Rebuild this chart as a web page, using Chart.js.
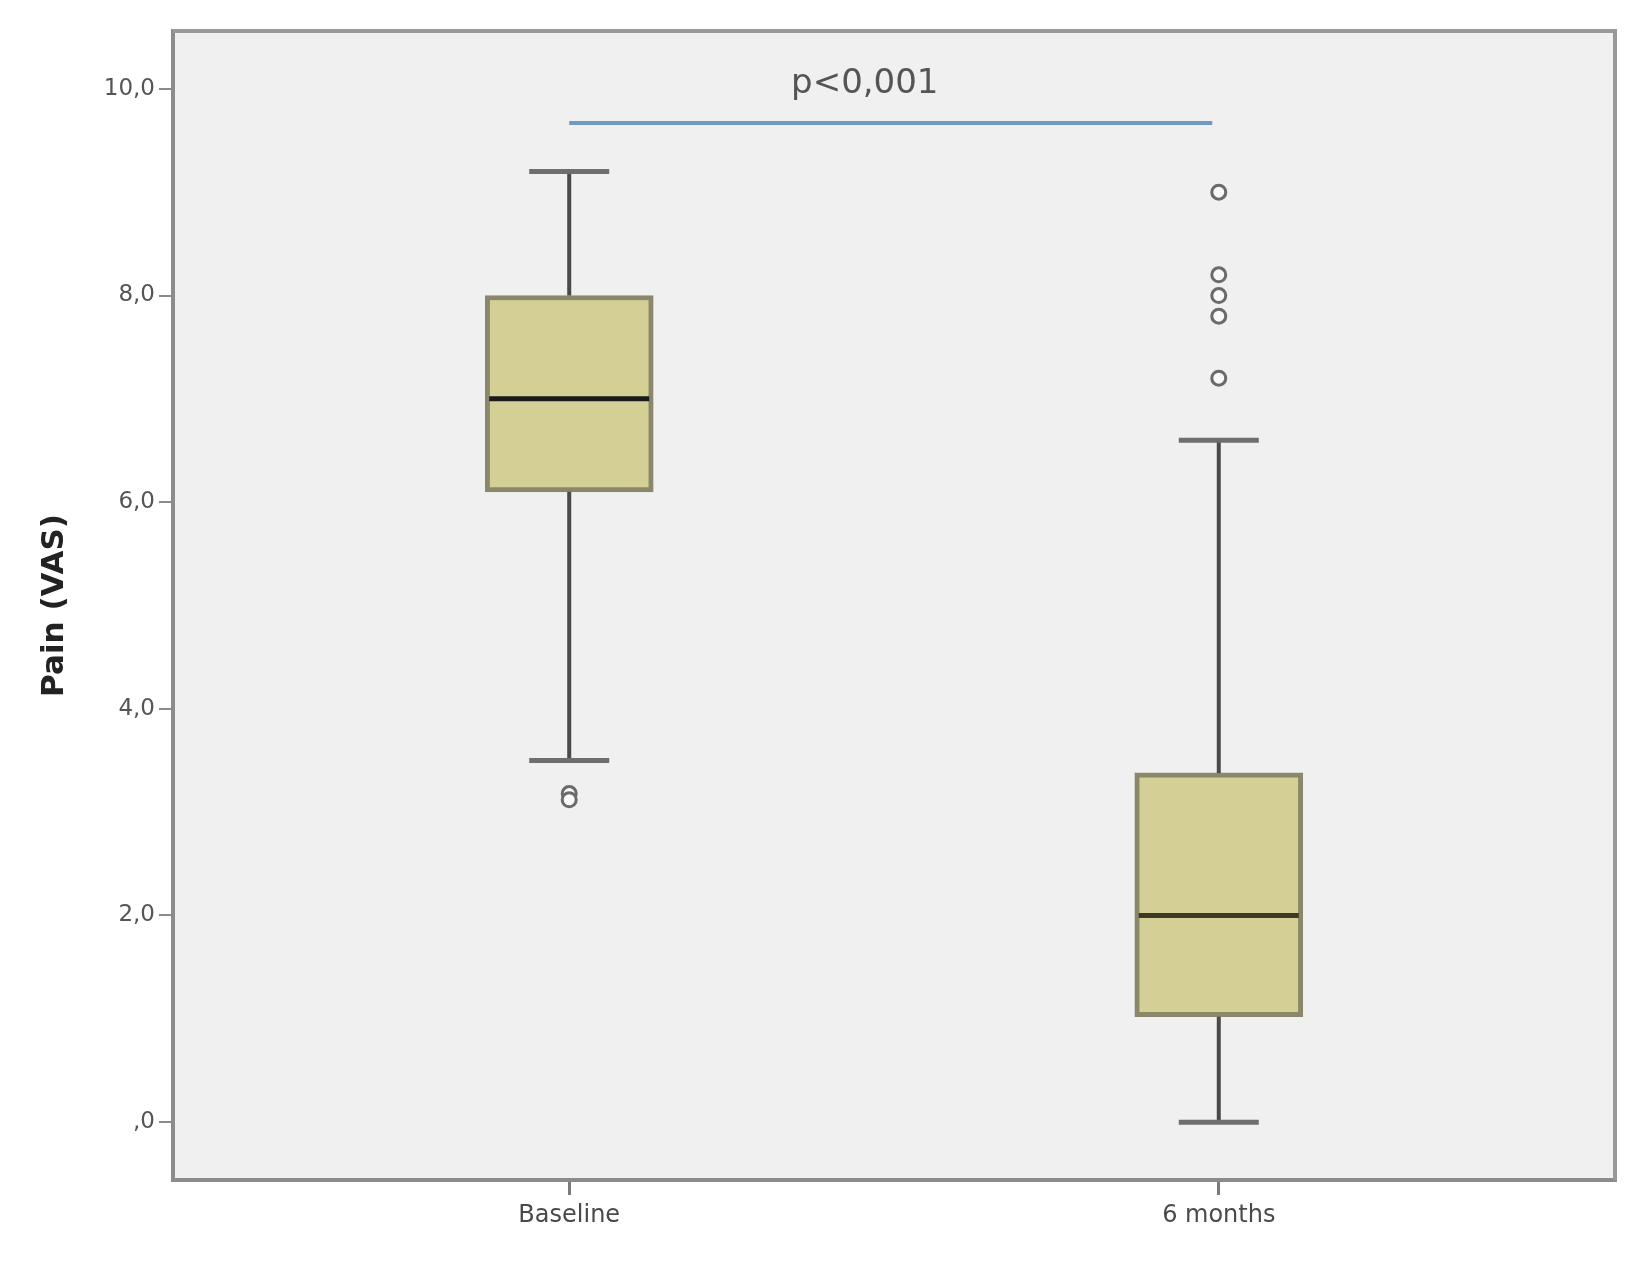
<!DOCTYPE html>
<html>
<head>
<meta charset="utf-8">
<script src="https://cdn.jsdelivr.net/npm/chart.js@4"></script>
<style>
  html, body { margin: 0; padding: 0; background: #ffffff; }
  #wrap { width: 1644px; height: 1269px; position: relative; }
</style>
</head>
<body>
<div id="wrap"><canvas id="painChart"></canvas></div>
<script>
// Box plot values (Pain VAS, baseline vs 6 months)
const categories = ['Baseline', '6 months'];
const catPos = [1, 2];
const whiskerLow = [3.5, 0.0];
const q1 = [6.1, 1.02];
const median = [7.0, 2.0];
const q3 = [8.0, 3.38];
const whiskerHigh = [9.2, 6.6];

// outliers (small circles)
const outliersBaseline = [3.18, 3.12];
const outliers6Months = [9.0, 8.2, 8.0, 7.8, 7.2];

const yTicks = [0, 2, 4, 6, 8, 10];
const yTickLabels = [',0', '2,0', '4,0', '6,0', '8,0', '10,0'];

// significance bar
const pText = 'p<0,001';
const pLineFrom = [1, 9.67];
const pLineTo = [1.99, 9.67];
const pTextAt = [1.455, 10.05];

const FONT = "'DejaVu Sans', 'Liberation Sans', sans-serif";

const boxData = catPos.map((x, i) => ({ x: x, y: [q1[i], q3[i]] }));
const outlierData = []
    .concat(outliersBaseline.map(v => ({ x: catPos[0], y: v })))
    .concat(outliers6Months.map(v => ({ x: catPos[1], y: v })));

// Plugin: plot background, whiskers, medians, significance line, frame
const boxExtras = {
    id: 'boxExtras',
    beforeDraw: (chart) => {
        const { ctx, chartArea } = chart;
        ctx.save();
        ctx.fillStyle = '#f0f0f0';
        ctx.fillRect(chartArea.left, chartArea.top, chartArea.right - chartArea.left, chartArea.bottom - chartArea.top);
        ctx.restore();
    },
    afterDatasetsDraw: (chart) => {
        const ctx = chart.ctx;
        const xs = chart.scales.x;
        const ys = chart.scales.y;
        const capHalf = 40;
        const boxHalf = 84;

        ctx.save();
        catPos.forEach((pos, i) => {
            const cx = xs.getPixelForValue(pos);

            // whiskers
            ctx.strokeStyle = '#4a4a4a';
            ctx.lineWidth = 4;
            ctx.beginPath();
            ctx.moveTo(cx, ys.getPixelForValue(q3[i]));
            ctx.lineTo(cx, ys.getPixelForValue(whiskerHigh[i]));
            ctx.moveTo(cx, ys.getPixelForValue(q1[i]));
            ctx.lineTo(cx, ys.getPixelForValue(whiskerLow[i]));
            ctx.stroke();

            // caps
            ctx.strokeStyle = '#6e6e6e';
            ctx.lineWidth = 5;
            ctx.beginPath();
            [whiskerHigh[i], whiskerLow[i]].forEach(v => {
                const y = ys.getPixelForValue(v);
                ctx.moveTo(cx - capHalf, y);
                ctx.lineTo(cx + capHalf, y);
            });
            ctx.stroke();

            // median
            ctx.strokeStyle = i === 0 ? '#1a1a1a' : '#3d3828';
            ctx.lineWidth = 5;
            ctx.beginPath();
            const my = ys.getPixelForValue(median[i]);
            ctx.moveTo(cx - boxHalf + 4, my);
            ctx.lineTo(cx + boxHalf - 4, my);
            ctx.stroke();
        });

        // p-value line
        ctx.strokeStyle = '#6f9bc3';
        ctx.lineWidth = 4;
        ctx.beginPath();
        ctx.moveTo(xs.getPixelForValue(pLineFrom[0]), ys.getPixelForValue(pLineFrom[1]));
        ctx.lineTo(xs.getPixelForValue(pLineTo[0]), ys.getPixelForValue(pLineTo[1]));
        ctx.stroke();

        ctx.fillStyle = '#555555';
        ctx.font = '34px ' + FONT;
        ctx.textAlign = 'center';
        ctx.textBaseline = 'middle';
        ctx.fillText(pText, xs.getPixelForValue(pTextAt[0]), ys.getPixelForValue(pTextAt[1]));
        ctx.restore();
    },
    afterDraw: (chart) => {
        const { ctx, chartArea } = chart;
        ctx.save();
        ctx.strokeStyle = '#999999';
        ctx.lineWidth = 4;
        ctx.beginPath();
        ctx.moveTo(chartArea.left, chartArea.top);
        ctx.lineTo(chartArea.right, chartArea.top);
        ctx.lineTo(chartArea.right, chartArea.bottom);
        ctx.stroke();
        ctx.restore();
    }
};

new Chart(document.getElementById('painChart'), {
    type: 'bar',
    data: {
        datasets: [
            {
                type: 'bar',
                data: boxData,
                backgroundColor: '#d4d095',
                borderColor: '#8a876a',
                borderWidth: 5,
                borderSkipped: false,
                barThickness: 168
            },
            {
                type: 'scatter',
                data: outlierData,
                pointStyle: 'circle',
                pointRadius: 7,
                pointBorderWidth: 3,
                pointBorderColor: '#6a6a6a',
                pointBackgroundColor: '#f8f8f8',
                showLine: false
            }
        ]
    },
    options: {
        responsive: true,
        maintainAspectRatio: false,
        animation: false,
        layout: { padding: { top: 31, right: 29, left: 0, bottom: 0 } },
        plugins: {
            legend: { display: false },
            tooltip: { enabled: false }
        },
        scales: {
            x: {
                type: 'linear',
                min: 0.39,
                max: 2.61,
                offset: false,
                afterBuildTicks: (axis) => { axis.ticks = catPos.map(v => ({ value: v })); },
                afterFit: (axis) => { axis.height = 89; },
                grid: { drawOnChartArea: false, drawTicks: true, tickLength: 15, color: '#7a7a7a', lineWidth: 3, offset: false },
                border: { display: true, color: '#8c8c8c', width: 4 },
                ticks: {
                    autoSkip: false,
                    maxRotation: 0,
                    padding: 6,
                    color: '#4a4a4a',
                    font: { family: FONT, size: 24 },
                    callback: function (value) {
                        const idx = catPos.indexOf(value);
                        return idx >= 0 ? categories[idx] : '';
                    }
                }
            },
            y: {
                type: 'linear',
                min: -0.56,
                max: 10.56,
                afterBuildTicks: (axis) => { axis.ticks = yTicks.map(v => ({ value: v })); },
                afterFit: (axis) => { axis.width = 173; },
                grid: { drawOnChartArea: false, drawTicks: true, tickLength: 14, color: '#8a8a8a', lineWidth: 2 },
                border: { display: true, color: '#8c8c8c', width: 4 },
                title: {
                    display: true,
                    text: 'Pain (VAS)',
                    color: '#222222',
                    font: { family: FONT, size: 31, weight: 'bold' },
                    padding: { top: 36, bottom: 0 }
                },
                ticks: {
                    autoSkip: false,
                    padding: 4,
                    color: '#555555',
                    font: { family: FONT, size: 23 },
                    callback: function (value) {
                        const idx = yTicks.indexOf(value);
                        return idx >= 0 ? yTickLabels[idx] : '';
                    }
                }
            }
        }
    },
    plugins: [boxExtras]
});
</script>
</body>
</html>
